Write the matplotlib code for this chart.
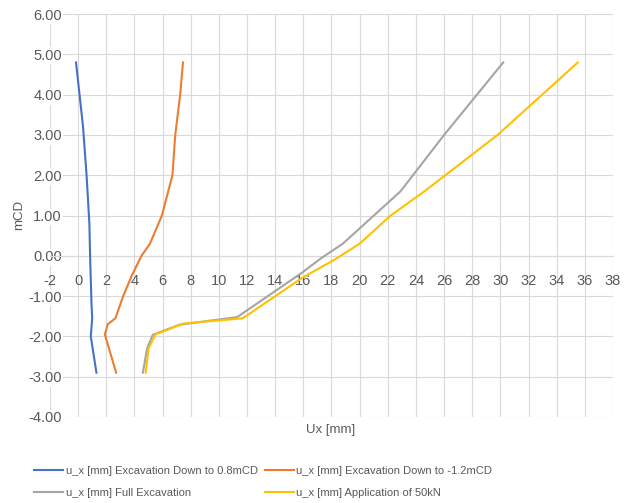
import numpy as np
import matplotlib.pyplot as plt

plt.rcParams['font.family'] = ['Liberation Sans', 'DejaVu Sans']
plt.rcParams['axes.unicode_minus'] = False

# (x = Ux [mm], y = poziom [mCD])
blue_x = [-0.15, 0.1, 0.35, 0.6, 0.8, 0.85, 0.95, 1.0, 0.9, 1.3]
blue_y = [4.8, 4.0, 3.2, 2.0, 0.8, 0.0, -1.2, -1.55, -2.0, -2.9]

orange_x = [7.45, 7.25, 6.9, 6.7, 6.4, 5.95, 5.1, 4.5, 3.8, 3.2, 2.65, 2.1, 1.9, 2.7]
orange_y = [4.8, 4.0, 3.0, 2.0, 1.6, 1.0, 0.3, 0.0, -0.5, -1.0, -1.55, -1.7, -1.95, -2.9]

gray_x = [30.2, 26.0, 22.9, 18.8, 17.3, 15.9, 11.3, 7.2, 5.3, 4.9, 4.6]
gray_y = [4.8, 3.0, 1.6, 0.3, -0.05, -0.42, -1.52, -1.71, -1.96, -2.3, -2.9]

yellow_x = [35.5, 29.8, 24.6, 22.2, 20.0, 18.2, 15.9, 11.7, 7.5, 5.5, 5.0, 4.8]
yellow_y = [4.8, 3.0, 1.6, 1.0, 0.3, -0.1, -0.55, -1.55, -1.68, -1.95, -2.3, -2.9]

labels = ["u_x [mm] Excavation Down to 0.8mCD",
          "u_x [mm] Excavation Down to -1.2mCD",
          "u_x [mm] Full Excavation",
          "u_x [mm] Application of 50kN"]
kolory = ['#4472C4', '#ED7D31', '#A5A5A5', '#FFC000']

fig = plt.figure(figsize=(6.27, 5.03), dpi=100)
ax = fig.add_axes([0.0797, 0.171, 0.898, 0.801])

serie = [(blue_x, blue_y), (orange_x, orange_y), (gray_x, gray_y), (yellow_x, yellow_y)]
linie = []
for (xs, ys), c, lab in zip(serie, kolory, labels):
    l, = ax.plot(xs, ys, c=c, lw=1.5, label=lab, zorder=3)
    linie.append(l)

ax.set_xlim(-2, 38)
ax.set_ylim(-4, 6)
ax.set_xticks(np.arange(-2, 39, 2))
ax.set_yticks(np.arange(-4, 7, 1))
ax.set_yticklabels([f"{v:.2f}" for v in np.arange(-4, 7, 1)])
ax.grid(color='#D9D9D9', lw=0.8, zorder=0)
for s in ['top', 'right', 'left']:
    ax.spines[s].set_visible(False)
ax.spines['bottom'].set_position(('data', 0))
ax.spines['bottom'].set_color('#D9D9D9')
ax.tick_params(length=0, labelsize=10.5, colors='#595959')
ax.tick_params(axis='x', pad=13)
ax.tick_params(axis='y', pad=-8.6)
for t in ax.get_yticklabels():
    t.set_bbox(dict(fc='white', ec='none', pad=1))

fig.text(0.528, 0.145, "Ux [mm]", ha='center', va='center', fontsize=9.5, color='#595959')
fig.text(0.03, 0.573, "mCD", ha='center', va='center', rotation=90, fontsize=9.5, color='#595959')

# kolejnosc jak w Excelu: wiersz po wierszu
kol = [0, 2, 1, 3]
fig.legend([linie[i] for i in kol], [labels[i] for i in kol],
           loc='center', bbox_to_anchor=(0.42, 0.042), ncol=2, frameon=False,
           fontsize=8, handlelength=2.6, handletextpad=0.25, columnspacing=0.6,
           labelspacing=1.05, labelcolor='#595959')

plt.savefig("out.png", dpi=100)
plt.close()
